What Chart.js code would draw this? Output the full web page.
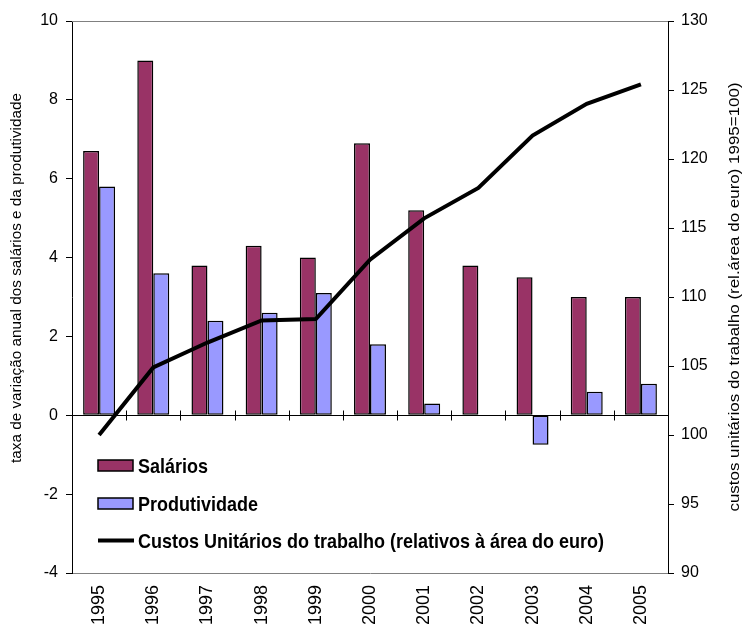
<!DOCTYPE html>
<html>
<head>
<meta charset="utf-8">
<script src="https://cdn.jsdelivr.net/npm/chart.js@4.4.1/dist/chart.umd.min.js"></script>
<style>
  html, body { margin: 0; padding: 0; background: #fff; }
  #wrap { width: 744px; height: 625px; }
</style>
</head>
<body>
<div id="wrap"><canvas id="chart"></canvas></div>
<script>
const years = ['1995', '1996', '1997', '1998', '1999', '2000', '2001', '2002', '2003', '2004', '2005'];
const salarios = [6.7, 9.0, 3.8, 4.3, 4.0, 6.9, 5.2, 3.8, 3.5, 3.0, 3.0];
const produtividade = [5.8, 3.6, 2.4, 2.6, 3.1, 1.8, 0.3, 0, -0.75, 0.6, 0.8];
const custosUnitarios = [100, 104.9, 106.7, 108.3, 108.4, 112.7, 115.7, 117.9, 121.7, 124.0, 125.4];
const leftTitle = 'taxa de variação anual dos salários e da produtividade';
const rightTitle = 'custos unitários do trabalho (rel.área do euro) 1995=100)';

const FONT = 'Arial, "Liberation Sans", sans-serif';
const STRETCH = 1.13; // the original picture is a bit taller than wide

// frame, zero line, axis titles and the in-plot legend
const decor = {
    id: 'decor',
    beforeDatasetsDraw (chart) {
        const { ctx, chartArea: a, scales: { x, y } } = chart;
        const y0 = Math.round(y.getPixelForValue(0)) + 0.5;
        ctx.save();
        ctx.lineWidth = 1;
        ctx.strokeStyle = '#808080';
        ctx.beginPath();
        ctx.moveTo(a.left, a.top + 0.5);
        ctx.lineTo(a.right, a.top + 0.5);
        ctx.stroke();

        ctx.strokeStyle = '#000';
        ctx.beginPath();
        ctx.moveTo(a.left, y0);
        ctx.lineTo(a.right, y0);
        for (let i = 0; i < years.length - 1; i++) {
            const bx = Math.round((x.getPixelForValue(i) + x.getPixelForValue(i + 1)) / 2) + 0.5;
            ctx.moveTo(bx, y0 - 5);
            ctx.lineTo(bx, y0 + 5);
        }
        ctx.stroke();
        ctx.restore();
    },
    afterDraw (chart) {
        const { ctx, chartArea: a } = chart;
        const mid = (a.top + a.bottom) / 2;
        ctx.save();
        ctx.fillStyle = '#000';
        ctx.font = '15px ' + FONT;
        ctx.textAlign = 'center';
        ctx.textBaseline = 'middle';

        ctx.translate(17, 278);
        ctx.rotate(-Math.PI / 2);
        ctx.scale(1.02, 1);
        ctx.fillText(leftTitle, 0, 0);
        ctx.setTransform(1, 0, 0, 1, 0, 0);
        ctx.translate(735, mid);
        ctx.rotate(-Math.PI / 2);
        ctx.scale(STRETCH, 1);
        ctx.fillText(rightTitle, 0, 0);
        ctx.setTransform(1, 0, 0, 1, 0, 0);

        // legend
        const rows = [465.5, 503.5, 540.5];
        ctx.font = 'bold 18px ' + FONT;
        ctx.textAlign = 'left';
        ctx.textBaseline = 'alphabetic';
        chart.data.datasets.forEach((ds, i) => {
            const cy = rows[i];
            if (ds.type === 'line') {
                ctx.strokeStyle = ds.borderColor;
                ctx.lineWidth = 4;
                ctx.beginPath();
                ctx.moveTo(98, cy);
                ctx.lineTo(134, cy);
                ctx.stroke();
            } else {
                ctx.fillStyle = ds.backgroundColor;
                ctx.fillRect(98, cy - 5.5, 35, 11);
                ctx.strokeStyle = '#000';
                ctx.lineWidth = 1.5;
                ctx.strokeRect(98, cy - 5.5, 35, 11);
            }
            ctx.fillStyle = '#000';
            ctx.save();
            ctx.translate(138, cy + 7.5);
            ctx.scale(1, STRETCH);
            ctx.fillText(ds.label, 0, 0);
            ctx.restore();
        });
        ctx.restore();
    }
};

const tickFont = { family: FONT, size: 16 };

new Chart(document.getElementById('chart'), {
    data: {
        labels: years,
        datasets: [
            {
                type: 'bar',
                label: 'Salários',
                data: salarios,
                yAxisID: 'y',
                backgroundColor: '#993366',
                borderColor: '#000',
                borderWidth: 1.5,
                borderSkipped: false,
                categoryPercentage: 0.59,
                barPercentage: 1.0,
                order: 1
            },
            {
                type: 'bar',
                label: 'Produtividade',
                data: produtividade,
                yAxisID: 'y',
                backgroundColor: '#9999FF',
                borderColor: '#000',
                borderWidth: 1.5,
                borderSkipped: false,
                categoryPercentage: 0.59,
                barPercentage: 1.0,
                order: 1
            },
            {
                type: 'line',
                label: 'Custos Unitários do trabalho (relativos à área do euro)',
                data: custosUnitarios,
                yAxisID: 'y1',
                borderColor: '#000',
                borderWidth: 4,
                pointRadius: 0,
                tension: 0,
                order: 0
            }
        ]
    },
    options: {
        responsive: true,
        maintainAspectRatio: false,
        animation: false,
        layout: { padding: { top: 21, left: 0, right: 0, bottom: 0 } },
        plugins: {
            legend: { display: false },
            tooltip: { enabled: false }
        },
        scales: {
            x: {
                grid: { display: false, drawTicks: false },
                border: { color: '#808080' },
                ticks: { font: { family: FONT, size: 18 }, color: '#000', minRotation: 90, maxRotation: 90, padding: 12 },
                afterFit (s) { s.height = 52; }
            },
            y: {
                position: 'left',
                min: -4,
                max: 10,
                ticks: { stepSize: 2, font: tickFont, color: '#000', padding: 8 },
                grid: { drawOnChartArea: false, color: '#000', tickLength: 6 },
                border: { color: '#000' },
                afterFit (s) { s.width = 72; }
            },
            y1: {
                position: 'right',
                min: 90,
                max: 130,
                ticks: { stepSize: 5, font: tickFont, color: '#000', padding: 7 },
                grid: { drawOnChartArea: false, color: '#000', tickLength: 6 },
                border: { color: '#000' },
                afterFit (s) { s.width = 76; }
            }
        }
    },
    plugins: [decor]
});
</script>
</body>
</html>
